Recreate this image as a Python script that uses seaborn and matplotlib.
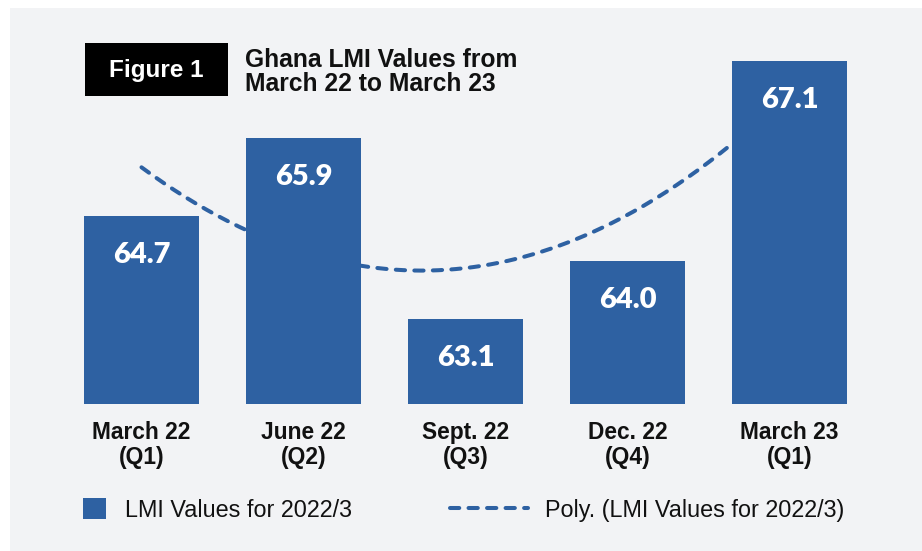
import numpy as np
import pandas as pd
import matplotlib
matplotlib.use("Agg")
import matplotlib.pyplot as plt
from matplotlib.patches import Rectangle, Patch
from matplotlib.lines import Line2D
import seaborn as sns

# Ghana LMI values, March 22 to March 23
quarters = ["March 22\n(Q1)", "June 22\n(Q2)", "Sept. 22\n(Q3)", "Dec. 22\n(Q4)", "March 23\n(Q1)"]
lmi_values = [64.7, 65.9, 63.1, 64.0, 67.1]
bar_label = "LMI Values for 2022/3"
trend_label = "Poly. (LMI Values for 2022/3)"

blue = "#2e61a2"
panel = "#f2f3f5"
ink = "#111111"

sns.set_theme(style="white")
plt.rcParams['font.family'] = ['Liberation Sans', 'DejaVu Sans']

W, H = 922, 551
fig = plt.figure(figsize=(W / 100, H / 100), dpi=100, facecolor="white")
fig.patches.append(Rectangle((10 / W, 0), 1, 1 - 8 / H, transform=fig.transFigure,
                             facecolor=panel, edgecolor="none", zorder=-10))

# axes placed so that each category is 162 px wide and the baseline sits at y=404
ax = fig.add_axes([60.5 / W, 1 - 404 / H, 810 / W, 401 / H])
ax.set_facecolor("none")

df = pd.DataFrame({"quarter": quarters, "value": lmi_values})
sns.barplot(data=df, x="quarter", y="value", color=blue, saturation=1,
            width=0.71, linewidth=0, ax=ax, zorder=2)

# second order polynomial trend, like the spreadsheet's Poly. trendline
xs = np.arange(len(lmi_values))
coef = np.polyfit(xs + 1, lmi_values, 2)
xx = np.linspace(0, len(lmi_values) - 1, 300)
ax.plot(xx, np.polyval(coef, xx + 1), color=blue, lw=2.9, ls=(0, (2.3, 2.3)),
        dash_capstyle="round", zorder=1)

for i, v in enumerate(lmi_values):
    ax.annotate(f"{v:.1f}", (i, v), xytext=(0, -28), textcoords="offset points",
                ha="center", va="center", color="white", fontsize=21,
                fontweight="heavy", family=["Lato", "DejaVu Sans"])

ax.set_xlim(-0.5, len(lmi_values) - 0.5)
ax.set_ylim(61.78, 68)
ax.set_xlabel("")
ax.set_ylabel("")
ax.set_yticks([])
ax.tick_params(axis="x", length=0, pad=12)
for lab in ax.get_xticklabels():
    lab.set_fontweight("bold")
    lab.set_fontsize(16.4)
    lab.set_color(ink)
    lab.set_linespacing(1.12)
sns.despine(ax=ax, left=True, bottom=True)

# title block
fig.patches.append(Rectangle((85 / W, 1 - 96 / H), 143 / W, 53 / H,
                             transform=fig.transFigure, facecolor="black",
                             edgecolor="none", zorder=5))
fig.text(156 / W, 1 - 70 / H, "Figure 1", color="white", fontsize=17.5,
         fontweight="bold", ha="center", va="center", zorder=6)
fig.text(245 / W, 1 - 72 / H, "Ghana LMI Values from\nMarch 22 to March 23",
         color=ink, fontsize=17.7, fontweight="bold", ha="left", va="center",
         linespacing=0.98)

# legend
leg1 = fig.legend(handles=[Patch(facecolor=blue, edgecolor="none", label=bar_label)],
                  loc="center left", bbox_to_anchor=(83 / W, 1 - 510 / H),
                  frameon=False, fontsize=16.8, handlelength=1.0, handleheight=1.0,
                  handletextpad=0.8, borderpad=0, borderaxespad=0)
for t in leg1.get_texts():
    t.set_color(ink)
leg2 = fig.legend(handles=[Line2D([0], [0], color=blue, lw=2.9, ls=(0, (2.3, 2.3)),
                                  dash_capstyle="round", label=trend_label)],
                  loc="center left", bbox_to_anchor=(450 / W, 1 - 510 / H),
                  frameon=False, fontsize=16.8, handlelength=3.35,
                  handletextpad=0.73, borderpad=0, borderaxespad=0)
for t in leg2.get_texts():
    t.set_color(ink)

fig.savefig("out.png", dpi=100, facecolor="white")
